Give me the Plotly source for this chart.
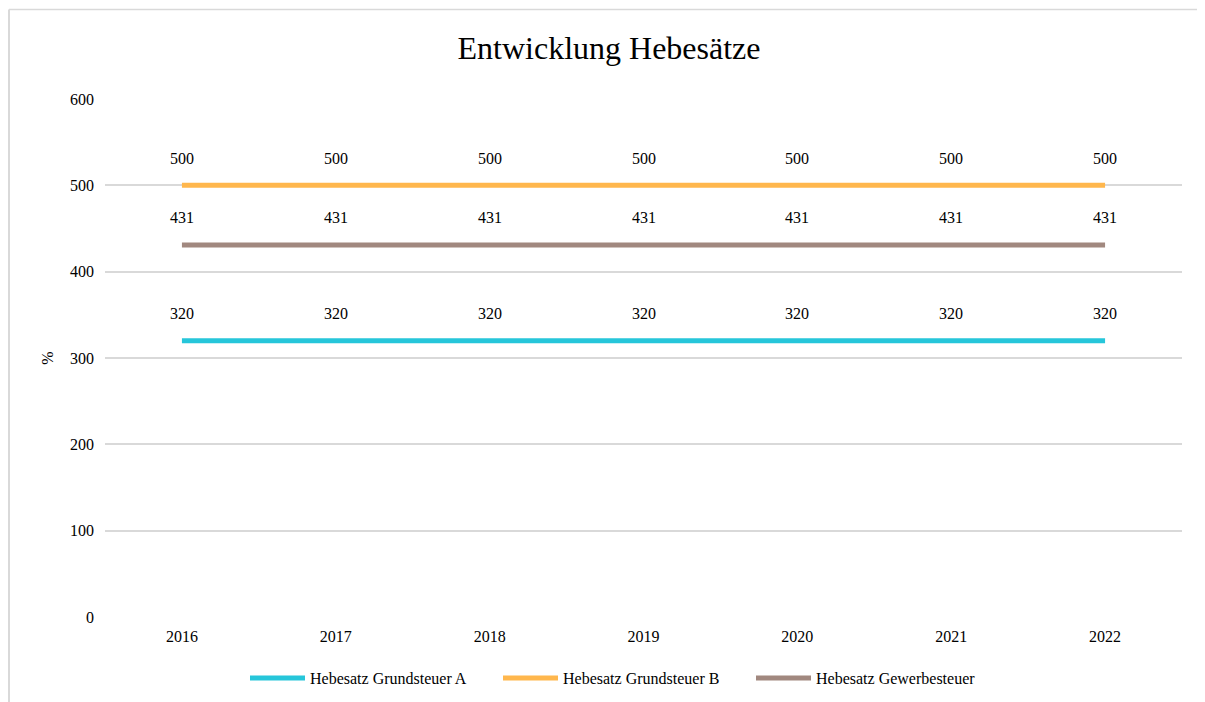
import plotly.graph_objects as go

years = ["2016", "2017", "2018", "2019", "2020", "2021", "2022"]
grundsteuer_a = [320, 320, 320, 320, 320, 320, 320]
grundsteuer_b = [500, 500, 500, 500, 500, 500, 500]
gewerbesteuer = [431, 431, 431, 431, 431, 431, 431]

series = [
    ("Hebesatz Grundsteuer A", grundsteuer_a, "#26C6DA"),
    ("Hebesatz Grundsteuer B", grundsteuer_b, "#FFB74D"),
    ("Hebesatz Gewerbesteuer", gewerbesteuer, "#A1887F"),
]

FONT = "Liberation Serif, Times New Roman, serif"
FS = 16

fig = go.Figure()
annotations = []
for name, vals, col in series:
    fig.add_trace(go.Scatter(x=years, y=vals, name=name, mode="lines",
                             line=dict(color=col, width=5)))
    for i, v in enumerate(vals):
        annotations.append(dict(x=i, y=v, xref="x", yref="y", text=str(v), showarrow=False,
                                yshift=27, font=dict(family=FONT, size=FS, color="#000")))

OFF = 8  # browser body margin
W, H = 1205 - OFF, 702 - OFF
# target plot area in page pixels
PL, PR, PT, PB = 105, 1182, 99, 617
L, R, T, B = PL - OFF, (W + OFF) - PR, PT - OFF, (H + OFF) - PB
pw, ph = PR - PL, PB - PT
def px(x): return (x - PL) / pw
def py(y): return (PB - y) / ph

shapes = [
    dict(type="line", xref="paper", yref="paper", x0=px(9), x1=px(9), y0=py(9.5), y1=py(720),
         line=dict(color="#d9d9d9", width=2)),
    dict(type="line", xref="paper", yref="paper", x0=px(9), x1=px(1210), y0=py(9.5), y1=py(9.5),
         line=dict(color="#d9d9d9", width=1.5)),
]

fig.update_layout(
    width=W, height=H,
    margin=dict(l=L, r=R, t=T, b=B, autoexpand=False),
    paper_bgcolor="white", plot_bgcolor="white",
    font=dict(family=FONT, size=FS, color="#000"),
    title=dict(text="Entwicklung Hebesätze", x=px(609), xref="paper", xanchor="center",
               y=1 - (48 - OFF) / H, yanchor="middle",
               font=dict(family=FONT, size=32, color="#000")),
    xaxis=dict(type="category", range=[-0.5, 6.5], showgrid=False, zeroline=False, showline=False,
               ticks="", tickfont=dict(size=FS), ticklabelstandoff=8),
    yaxis=dict(range=[0, 600], dtick=100, showgrid=True, gridcolor="#d9d9d9", gridwidth=1.5,
               zeroline=False, showline=False, ticks="", tickfont=dict(size=FS), ticklabelstandoff=10,
               title=dict(text="%", font=dict(size=FS), standoff=12)),
    legend=dict(orientation="h", x=px(245), xanchor="left", y=py(678), yanchor="middle",
                font=dict(size=FS), itemwidth=55, entrywidth=183, entrywidthmode="pixels",
                traceorder="normal"),
    annotations=annotations,
    shapes=shapes,
)

fig.write_html("out.html")
